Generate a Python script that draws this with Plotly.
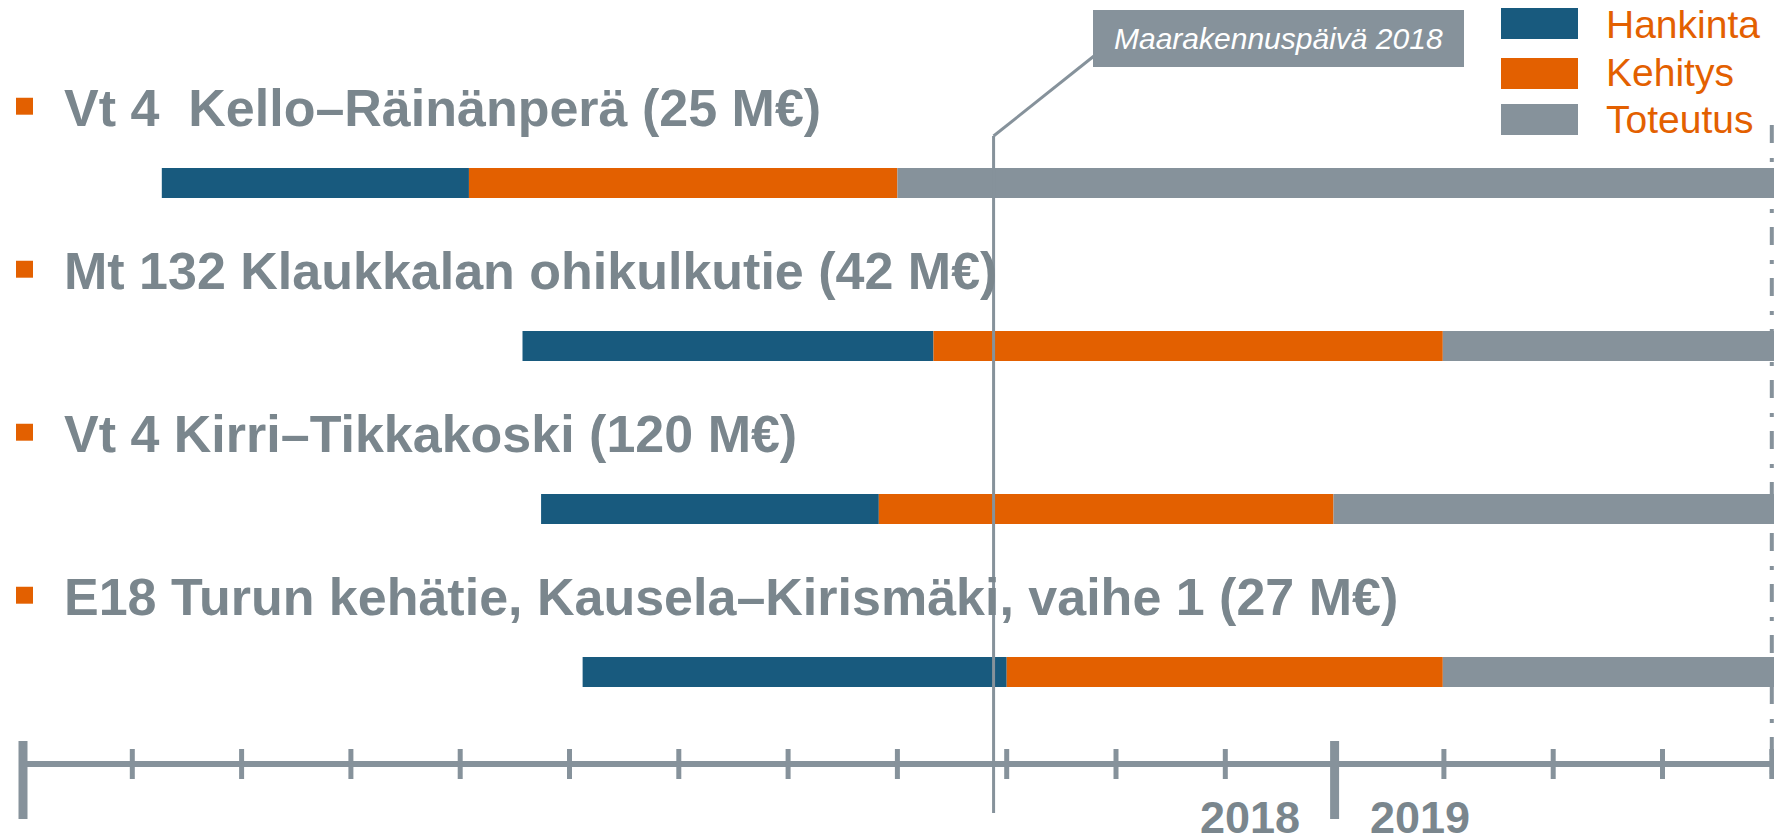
import plotly.graph_objects as go

# ---------------- data ----------------
projects = [
    "Vt 4  Kello–Räinänperä (25 M€)",
    "Mt 132 Klaukkalan ohikulkutie (42 M€)",
    "Vt 4 Kirri–Tikkakoski (120 M€)",
    "E18 Turun kehätie, Kausela–Kirismäki, vaihe 1 (27 M€)",
]
rows = [0, 1, 2, 3]
# months counted from 1 Jan 2018
hankinta_start = [1.27, 4.57, 4.74, 5.12]
kehitys_start = [4.08, 8.33, 7.83, 9.00]
toteutus_start = [8.00, 12.99, 11.99, 12.99]
toteutus_end = [17.0, 17.0, 17.0, 17.0]

phase_names = ["Hankinta", "Kehitys", "Toteutus"]
month_ticks = list(range(0, 17))
year_divider = [0, 12]
year_labels = ["2018", "2019"]
event_label = "Maarakennuspäivä 2018"
event_month = 8.88

# ---------------- styles ----------------
PAGE_OFF = 8              # default body margin of the html page
W, H = 1782 - PAGE_OFF, 838 - PAGE_OFF
BLUE = "#185A7E"
ORANGE = "#E36000"
GRAY = "#86929B"
TEXT = "#7A868D"
FONT = "Arial, Liberation Sans, sans-serif"


def px(x):
    """page pixel x -> paper fraction"""
    return (x - PAGE_OFF) / W


def py(y):
    """page pixel y -> paper fraction"""
    return 1 - (y - PAGE_OFF) / H


# axis pixel mapping (page px): month m -> 23 + 109.3*m ; row r -> 183 + 163*r
X0, DX = 23 - PAGE_OFF, 109.3
Y0, DY = 183 - PAGE_OFF, 163
x_range = [(0 - X0) / DX, (W - X0) / DX]
y_range = [(H - Y0) / DY, (0 - Y0) / DY]
BAR_W = 30 / DY


def mx(page_x):
    return (page_x - PAGE_OFF - X0) / DX


fig = go.Figure()
starts = [hankinta_start, kehitys_start, toteutus_start]
ends = [kehitys_start, toteutus_start, toteutus_end]
colors = [BLUE, ORANGE, GRAY]
for name, s, e, c in zip(phase_names, starts, ends, colors):
    fig.add_trace(go.Bar(
        y=rows, x=[b - a for a, b in zip(s, e)], base=s, orientation="h",
        width=BAR_W, marker=dict(color=c, line=dict(width=0)),
        name=name, showlegend=False, hoverinfo="skip",
    ))

shapes = []
annotations = []

# row labels with orange bullets
for r, label in zip(rows, projects):
    yc = r - 0.463
    annotations.append(dict(
        x=px(62), xref="paper", y=yc, yref="y", text=label, showarrow=False,
        xanchor="left", yanchor="middle",
        font=dict(family=FONT, size=52, color=TEXT, weight="bold"),
    ))
    shapes.append(dict(
        type="rect", xref="paper", yref="y", x0=px(16), x1=px(33),
        y0=yc - 0.060, y1=yc + 0.044, fillcolor=ORANGE, line=dict(width=0),
    ))

# dash-dot end line (beneath bars)
shapes.append(dict(
    type="line", xref="x", yref="paper", x0=month_ticks[-1], x1=month_ticks[-1],
    y0=py(125), y1=py(780), layer="below",
    line=dict(color=GRAY, width=4, dash="18px,15px,4px,14px"),
))

# timeline axis line
shapes.append(dict(
    type="line", xref="x", yref="paper", x0=month_ticks[0], x1=month_ticks[-1],
    y0=py(764), y1=py(764), line=dict(color=GRAY, width=6),
))
for m in month_ticks:
    if m in year_divider:
        shapes.append(dict(type="line", xref="x", yref="paper", x0=m, x1=m,
                           y0=py(741), y1=py(819), line=dict(color=GRAY, width=9)))
    else:
        shapes.append(dict(type="line", xref="x", yref="paper", x0=m, x1=m,
                           y0=py(749), y1=py(779), line=dict(color=GRAY, width=5)))

# year labels
for lbl, shift in zip(year_labels, [-85, 85]):
    annotations.append(dict(x=year_divider[1], xref="x", xshift=shift, y=py(817), yref="paper",
                            text=lbl, showarrow=False, xanchor="center", yanchor="middle",
                            font=dict(family=FONT, size=45, color=TEXT, weight="bold")))

# event marker line + callout
shapes.append(dict(type="line", xref="x", yref="paper", x0=event_month, x1=event_month,
                   y0=py(136), y1=py(813), line=dict(color=GRAY, width=3)))
shapes.append(dict(type="line", xref="x", yref="paper", x0=event_month, x1=mx(1094),
                   y0=py(136), y1=py(56), line=dict(color=GRAY, width=3)))
shapes.append(dict(type="rect", xref="paper", yref="paper", x0=px(1093), x1=px(1464),
                   y0=py(67), y1=py(10), fillcolor=GRAY, line=dict(width=0)))
annotations.append(dict(x=px(1278), xref="paper", y=py(38), yref="paper", text=event_label,
                        showarrow=False, xanchor="center", yanchor="middle",
                        font=dict(family=FONT, size=30, color="white", style="italic")))

# manual legend
leg_y = [(8, 39), (58, 89), (104, 135)]
leg_text_y = [24, 73, 120]
for name, c, (y0, y1), ty in zip(phase_names, colors, leg_y, leg_text_y):
    shapes.append(dict(type="rect", xref="paper", yref="paper", x0=px(1501), x1=px(1578),
                       y0=py(y1), y1=py(y0), fillcolor=c, line=dict(width=0)))
    annotations.append(dict(x=px(1604), xref="paper", y=py(ty), yref="paper", text=name,
                            showarrow=False, xanchor="left", yanchor="middle",
                            font=dict(family=FONT, size=39, color=ORANGE)))

fig.update_layout(
    width=W, height=H,
    margin=dict(l=0, r=0, t=0, b=0),
    paper_bgcolor="white", plot_bgcolor="white",
    barmode="overlay",
    xaxis=dict(range=x_range, visible=False, fixedrange=True),
    yaxis=dict(range=y_range, visible=False, fixedrange=True),
    shapes=shapes, annotations=annotations,
    showlegend=False,
)

fig.write_html("out.html")
